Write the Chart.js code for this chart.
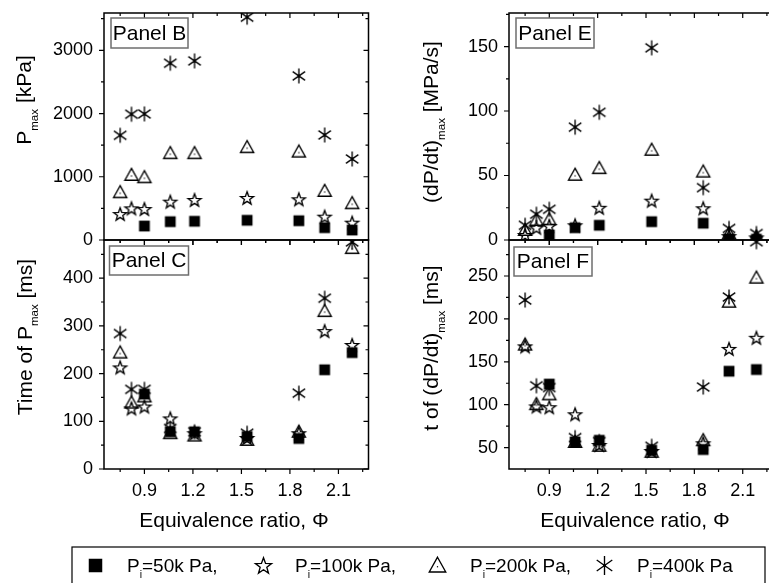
<!DOCTYPE html>
<html>
<head>
<meta charset="utf-8">
<script src="https://cdn.jsdelivr.net/npm/chart.js@4.4.1/dist/chart.umd.min.js"></script>
<style>
  html, body { margin: 0; padding: 0; background: #fff; }
  #wrap { position: relative; width: 769px; height: 583px; overflow: hidden; background: #fff; }
  #wrap canvas { position: absolute; }
</style>
</head>
<body>
<div id="wrap">
  <canvas id="cB"></canvas>
  <canvas id="cC"></canvas>
  <canvas id="cE"></canvas>
  <canvas id="cF"></canvas>
  <canvas id="cL"></canvas>
</div>
<script>
// ---------------- data ----------------
const phi = [0.75, 0.82, 0.9, 1.06, 1.21, 1.535, 1.855, 2.015, 2.185];
const seriesNames = ['Pi=50k Pa', 'Pi=100k Pa', 'Pi=200k Pa', 'Pi=400k Pa'];

// Panel B: Pmax [kPa]
const pmax50  = [null, null, 221, 290, 296, 312, 305, 195, 158];
const pmax100 = [411, 501, 490, 606, 633, 665, 644, 369, 274];
const pmax200 = [755, 1028, 992, 1372, 1372, 1467, 1397, 775, 581];
const pmax400 = [1656, 1989, 1994, 2796, 2832, 3524, 2595, 1661, 1282];

// Panel C: time of Pmax [ms]
const tpmax50  = [null, null, 157, 78, 78, 68, 64, 208, 244];
const tpmax100 = [213, 127, 131, 106, 75, 65, 75, 289, 260];
const tpmax200 = [244, 139, 152, 75, 70, 61, 78, 331, 463];
const tpmax400 = [284, 167, 167, 85, 78, 75, 159, 358, 476];

// Panel E: (dP/dt)max [MPa/s]
const dpdt50  = [null, null, 3.9, 9.5, 11.4, 14.2, 13, 0.8, 0.6];
const dpdt100 = [3.9, 9.5, 10.9, 11.4, 25, 30.5, 24.6, 3, 2];
const dpdt200 = [7.8, 15.5, 16, 50.5, 55.7, 69.9, 53, 5, 2.5];
const dpdt400 = [11.4, 20, 23.8, 87.5, 99, 149, 40.6, 9, 5];

// Panel F: t of (dP/dt)max [ms]
const tdpdt50  = [null, null, 124, 56.5, 58.5, 47, 47.7, 139, 141];
const tdpdt100 = [168, 98, 97, 88.8, 53, 46, 55, 165, 178];
const tdpdt200 = [170, 100.5, 112, 56.5, 52, 45, 58.5, 220, 248];
const tdpdt400 = [222, 122, 120, 61.6, 57, 51.5, 120.6, 225.5, 290];

// tick values
const xMajorTicks = [0.9, 1.2, 1.5, 1.8, 2.1];
const xMinorTicks = [0.75, 1.05, 1.35, 1.65, 1.95, 2.25];
const yTicksB = [0, 1000, 2000, 3000], yMinorB = [500, 1500, 2500, 3500];
const yTicksC = [0, 100, 200, 300, 400], yMinorC = [50, 150, 250, 350, 450];
const yTicksE = [0, 50, 100, 150], yMinorE = [25, 75, 125, 175];
const yTicksF = [50, 100, 150, 200, 250], yMinorF = [75, 125, 175, 225, 275];

// ---------------- styling ----------------
const FONT = '"Liberation Sans", Arial, Helvetica, sans-serif';

function mk(size, draw) {
  const c = document.createElement('canvas');
  c.width = c.height = size;
  const g = c.getContext('2d');
  g.translate(size / 2, size / 2);
  g.strokeStyle = '#000'; g.fillStyle = '#000';
  draw(g);
  return c;
}
function makeMarkers(s) {
  const N = Math.round(20 * s);
  const sq = mk(N, g => { const h = 5.4 * s; g.fillRect(-h, -h, 2 * h, 2 * h); });
  const star = mk(N, g => {
    g.lineWidth = 1.35; g.lineJoin = 'miter'; g.beginPath();
    const R = 6.8 * s, r = 2.8 * s;
    for (let k = 0; k < 10; k++) {
      const ang = -Math.PI / 2 + k * Math.PI / 5;
      const rr = k % 2 ? r : R;
      const px = rr * Math.cos(ang), py = rr * Math.sin(ang) + 0.6 * s;
      k ? g.lineTo(px, py) : g.moveTo(px, py);
    }
    g.closePath(); g.stroke();
  });
  const tri = mk(N, g => {
    g.lineWidth = 1.35; g.beginPath();
    g.moveTo(0, -6.6 * s); g.lineTo(6.6 * s, 5.2 * s); g.lineTo(-6.6 * s, 5.2 * s); g.closePath(); g.stroke();
    g.fillRect(-0.6, 1.0 * s - 0.6, 1.2, 1.2);
  });
  const ast = mk(N, g => {
    g.lineWidth = 1.35; g.beginPath();
    const R = 7.6 * s;
    [90, 35, 145].forEach(d => {
      const a = d * Math.PI / 180;
      g.moveTo(R * Math.cos(a), -R * Math.sin(a));
      g.lineTo(-R * Math.cos(a), R * Math.sin(a));
    });
    g.stroke();
    g.beginPath(); g.arc(0, 0, 1.5, 0, 2 * Math.PI); g.fill();
  });
  return [sq, star, tri, ast];
}
const markers = makeMarkers(1);
const legendMarkers = makeMarkers(1.25);

function drawRich(ctx, parts, size, x, y, rot, align) {
  ctx.save();
  ctx.translate(x, y);
  if (rot) ctx.rotate(rot);
  let total = 0;
  const ms = parts.map(p => {
    const fs = p.sub ? size * 0.55 : size;
    ctx.font = fs + 'px ' + FONT;
    const w = ctx.measureText(p.t).width;
    total += w;
    return { fs, w };
  });
  let cx = align === 'left' ? 0 : -total / 2;
  ctx.textBaseline = 'alphabetic'; ctx.textAlign = 'left'; ctx.fillStyle = '#000';
  parts.forEach((p, i) => {
    ctx.font = ms[i].fs + 'px ' + FONT;
    ctx.fillText(p.t, cx, p.sub ? size * 0.32 : 0);
    cx += ms[i].w;
  });
  ctx.restore();
}

// frame, inward/outward ticks, titles and panel label
const decoPlugin = {
  id: 'deco',
  afterDraw(chart, args, o) {
    const { ctx, chartArea: a } = chart;
    const xs = chart.scales.x, ys = chart.scales.y;
    const ox = o.st.left, oy = o.st.top;
    ctx.save();
    ctx.strokeStyle = '#000';
    ctx.lineWidth = 1.2;
    ctx.beginPath();
    const tk = (vals, len) => {
      vals.forEach(v => {
        const px = xs.getPixelForValue(v);
        if (px < a.left - 0.5 || px > a.right + 0.5) return;
        ctx.moveTo(px, a.bottom); ctx.lineTo(px, a.bottom + len);   // bottom: outward
        ctx.moveTo(px, a.top); ctx.lineTo(px, a.top + len);         // top: inward
      });
    };
    tk(xMajorTicks, 5); tk(xMinorTicks, 3);
    const tky = (vals, len) => {
      vals.forEach(v => {
        const py = ys.getPixelForValue(v);
        if (py < a.top - 0.5 || py > a.bottom + 0.5) return;
        ctx.moveTo(a.left, py); ctx.lineTo(a.left - len, py);       // left: outward
        if (o.rightTicks) { ctx.moveTo(a.right, py); ctx.lineTo(a.right - len, py); } // right: inward
      });
    };
    tky(o.yMajor, 5); tky(o.yMinor, 3);
    ctx.stroke();
    ctx.lineWidth = 1.5;
    ctx.strokeRect(a.left, a.top, a.right - a.left, a.bottom - a.top);

    // panel label
    const bx = o.box[0] - ox, by = o.box[1] - oy;
    ctx.fillStyle = '#fff';
    ctx.fillRect(bx, by, o.box[2], o.box[3]);
    ctx.strokeStyle = '#6e6e6e'; ctx.lineWidth = 1.5;
    ctx.strokeRect(bx, by, o.box[2], o.box[3]);
    ctx.fillStyle = '#000';
    ctx.font = '21px ' + FONT;
    ctx.textAlign = 'center'; ctx.textBaseline = 'middle';
    ctx.fillText(o.label, bx + o.box[2] / 2, by + o.box[3] / 2 + 1);

    // y title
    drawRich(ctx, o.yTitle, 21, o.yTitlePos[0] - ox, o.yTitlePos[1] - oy, -Math.PI / 2);
    // x title
    if (o.xTitlePos) drawRich(ctx, [{ t: 'Equivalence ratio, Φ' }], 21, o.xTitlePos[0] - ox, o.xTitlePos[1] - oy, 0);
    ctx.restore();
  }
};

function ds(vals, k) {
  return {
    label: seriesNames[k],
    data: phi.map((x, i) => ({ x, y: vals[i] })).filter(p => p.y !== null),
    pointStyle: markers[k],
    pointRadius: 6,
    showLine: false
  };
}

function makePanel(p) {
  const cv = document.getElementById(p.id);
  cv.width = p.cw; cv.height = p.ch;
  const st = {
    left: p.cx, top: p.cy,
    yW: p.area.l - p.cx,
    xH: (p.cy + p.ch) - p.area.b,
    padTop: p.area.t - p.cy,
    padRight: (p.cx + p.cw) - p.area.r
  };
  cv.style.left = st.left + 'px'; cv.style.top = st.top + 'px';
  cv.style.width = p.cw + 'px'; cv.style.height = p.ch + 'px';
  const ch = new Chart(cv, {
    type: 'scatter',
    data: { datasets: p.series.map((v, k) => ds(v, k)) },
    options: {
      responsive: false, animation: false, devicePixelRatio: 1,
      layout: { padding: { left: 0, bottom: 0, top: st.padTop, right: st.padRight } },
      plugins: {
        legend: { display: false }, tooltip: { enabled: false },
        deco: {
          st: st, yMajor: p.yMajor, yMinor: p.yMinor, rightTicks: p.rightTicks,
          label: p.label, box: p.box, yTitle: p.yTitle, yTitlePos: p.yTitlePos, xTitlePos: p.xTitlePos
        }
      },
      scales: {
        x: {
          type: 'linear', min: 0.65, max: 2.286, bounds: 'data',
          grid: { display: false, drawTicks: false, tickLength: 0 },
          border: { display: false },
          ticks: { display: p.showX, color: '#000', font: { family: FONT, size: 18 }, padding: 11, maxRotation: 0, autoSkip: false,
                   callback: v => Number(v).toFixed(1) },
          afterBuildTicks: s => { s.ticks = xMajorTicks.map(v => ({ value: v })); },
          afterFit: s => { s.height = st.xH; }
        },
        y: {
          type: 'linear', min: p.ymin, max: p.ymax, bounds: 'data',
          grid: { display: false, drawTicks: false, tickLength: 0 },
          border: { display: false },
          ticks: { color: '#000', font: { family: FONT, size: 18 }, padding: 11, autoSkip: false,
                   callback: v => String(v) },
          afterBuildTicks: s => { s.ticks = p.yMajor.map(v => ({ value: v })); },
          afterFit: s => { s.width = st.yW; }
        }
      }
    },
    plugins: [decoPlugin]
  });
  // fine correction so the plot area lands where the reference has it
  for (let it = 0; it < 4; it++) {
    const a = ch.chartArea;
    const eT = st.top + a.top - p.area.t, eB = st.top + a.bottom - p.area.b;
    const eL = st.left + a.left - p.area.l, eR = st.left + a.right - p.area.r;
    if (Math.max(Math.abs(eT), Math.abs(eB), Math.abs(eL), Math.abs(eR)) < 0.05) break;
    st.padTop = Math.max(0, st.padTop - eT);
    st.xH = Math.max(0, st.xH + eB);
    st.yW = Math.max(0, st.yW - eL);
    st.padRight = Math.max(0, st.padRight + eR);
    ch.options.layout.padding.top = st.padTop;
    ch.options.layout.padding.right = st.padRight;
    ch.update('none');
  }
  return ch;
}

// canvases have generous margins (>= 28 px) so Chart.js' label padding never constrains the plot area
const L = { cx: 0, cw: 400, l: 104, r: 368.5 };
const R = { cx: 390, cw: 410, l: 509, r: 772.7 };
const TOP = { cy: -20, ch: 290, t: 13, b: 240 };
const BOT = { cy: 208, ch: 332, t: 240, b: 469 };

makePanel({ id: 'cB', cx: L.cx, cw: L.cw, cy: TOP.cy, ch: TOP.ch, rightTicks: true,
  area: { l: L.l, r: L.r, t: TOP.t, b: TOP.b }, ymin: 0, ymax: 3590,
  yMajor: yTicksB, yMinor: yMinorB, showX: false,
  series: [pmax50, pmax100, pmax200, pmax400],
  label: 'Panel B', box: [111, 18, 77, 30],
  yTitle: [{ t: 'P' }, { t: 'max', sub: true }, { t: ' [kPa]' }], yTitlePos: [31, 100] });

makePanel({ id: 'cC', cx: L.cx, cw: L.cw, cy: BOT.cy, ch: BOT.ch, rightTicks: true,
  area: { l: L.l, r: L.r, t: BOT.t, b: BOT.b }, ymin: 0, ymax: 480,
  yMajor: yTicksC, yMinor: yMinorC, showX: true,
  series: [tpmax50, tpmax100, tpmax200, tpmax400],
  label: 'Panel C', box: [109.5, 246, 79, 29],
  yTitle: [{ t: 'Time of P' }, { t: 'max', sub: true }, { t: ' [ms]' }], yTitlePos: [31.5, 337],
  xTitlePos: [234, 527] });

makePanel({ id: 'cE', cx: R.cx, cw: R.cw, cy: TOP.cy, ch: TOP.ch, rightTicks: false,
  area: { l: R.l, r: R.r, t: TOP.t, b: TOP.b }, ymin: 0, ymax: 176,
  yMajor: yTicksE, yMinor: yMinorE, showX: false,
  series: [dpdt50, dpdt100, dpdt200, dpdt400],
  label: 'Panel E', box: [516, 18, 78, 30],
  yTitle: [{ t: '(dP/dt)' }, { t: 'max', sub: true }, { t: ' [MPa/s]' }], yTitlePos: [438, 122] });

makePanel({ id: 'cF', cx: R.cx, cw: R.cw, cy: BOT.cy, ch: BOT.ch, rightTicks: false,
  area: { l: R.l, r: R.r, t: BOT.t, b: BOT.b }, ymin: 25, ymax: 292,
  yMajor: yTicksF, yMinor: yMinorF, showX: true,
  series: [tdpdt50, tdpdt100, tdpdt200, tdpdt400],
  label: 'Panel F', box: [514, 247, 78, 29],
  yTitle: [{ t: 't of (dP/dt)' }, { t: 'max', sub: true }, { t: ' [ms]' }], yTitlePos: [438, 348],
  xTitlePos: [635, 527] });

// ---------------- legend (separate chart, drawn by plugin) ----------------
const legendX = [95, 263, 437, 604];
const legendTextX = [127, 295, 470, 637];
const legendTexts = [
  [{ t: 'P' }, { t: 'i', sub: true }, { t: '=50k Pa,' }],
  [{ t: 'P' }, { t: 'i', sub: true }, { t: '=100k Pa,' }],
  [{ t: 'P' }, { t: 'i', sub: true }, { t: '=200k Pa,' }],
  [{ t: 'P' }, { t: 'i', sub: true }, { t: '=400k Pa' }]
];
const legendPlugin = {
  id: 'legendBox',
  afterDraw(chart) {
    const ctx = chart.ctx, oy = 540;
    ctx.save();
    ctx.strokeStyle = '#000'; ctx.lineWidth = 1.2;
    ctx.strokeRect(72, 547 - oy, 693, 50);
    const cy = 565 - oy;
    chart.data.datasets.forEach((d, k) => {
      const img = legendMarkers[k];
      ctx.drawImage(img, Math.round(legendX[k] - img.width / 2), Math.round(cy - img.height / 2));
      drawRich(ctx, legendTexts[k], 19, legendTextX[k], cy + 7, 0, 'left');
    });
    ctx.restore();
  }
};
(function () {
  const cv = document.getElementById('cL');
  cv.width = 769; cv.height = 43;
  cv.style.left = '0px'; cv.style.top = '540px';
  cv.style.width = '769px'; cv.style.height = '43px';
  new Chart(cv, {
    type: 'scatter',
    data: { datasets: seriesNames.map((n, k) => ({ label: n, data: [], pointStyle: markers[k] })) },
    options: {
      responsive: false, animation: false, devicePixelRatio: 1,
      plugins: { legend: { display: false }, tooltip: { enabled: false } },
      scales: { x: { display: false }, y: { display: false } }
    },
    plugins: [legendPlugin]
  });
})();
</script>
</body>
</html>
